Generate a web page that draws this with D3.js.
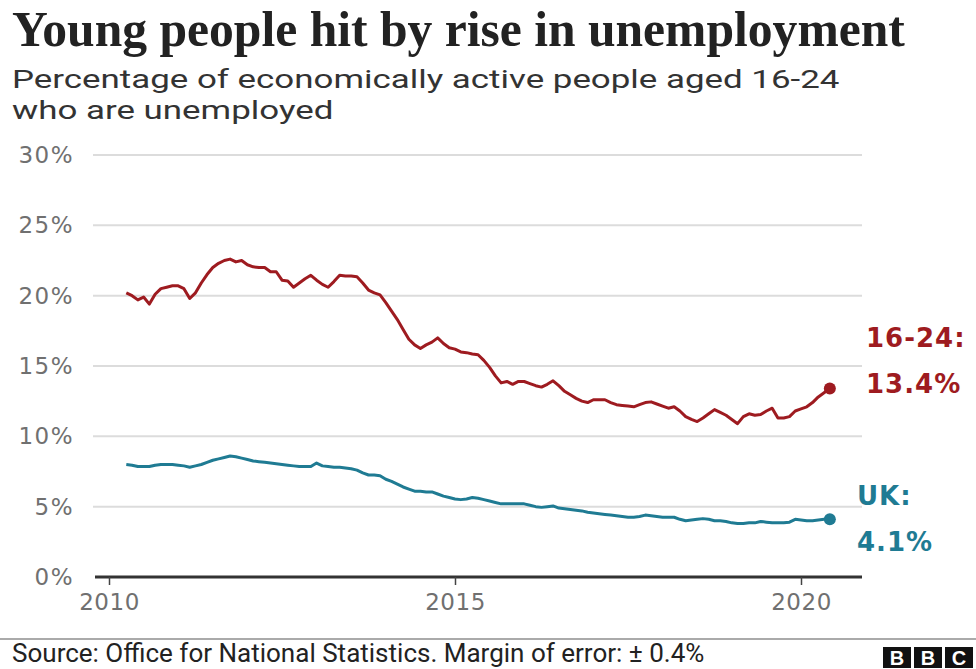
<!DOCTYPE html>
<html><head><meta charset="utf-8">
<script src="https://cdn.jsdelivr.net/npm/d3@7"></script>
<style>
html,body{margin:0;padding:0;background:#fff;}
svg{display:block;}
</style></head>
<body>
<svg id="c" width="976" height="669"></svg>
<script>
// ---- data ----
const title = "Young people hit by rise in unemployment";
const subtitleLines = ["Percentage of economically active people aged 16-24", "who are unemployed"];
const source = "Source: Office for National Statistics. Margin of error: \u00b1 0.4%";
const startYear = 2010, startMonth = 3; // April 2010 (0-based month)
const youth = [20.2,20.0,19.7,19.9,19.4,20.1,20.5,20.6,20.7,20.7,20.5,19.8,20.2,20.9,21.5,22.0,22.3,22.5,22.6,22.4,
22.5,22.2,22.05,22.0,22.0,21.7,21.7,21.1,21.05,20.6,20.9,21.2,21.45,21.1,20.8,20.6,21.0,21.45,21.4,21.4,
21.35,20.9,20.4,20.2,20.05,19.5,18.9,18.3,17.6,16.9,16.5,16.25,16.5,16.7,17.0,16.6,16.3,16.2,16.0,15.95,
15.85,15.8,15.4,14.9,14.3,13.8,13.9,13.7,13.9,13.9,13.75,13.6,13.5,13.7,13.95,13.6,13.2,12.95,12.7,12.5,
12.4,12.6,12.6,12.6,12.4,12.25,12.2,12.15,12.1,12.25,12.4,12.45,12.3,12.15,12.0,12.1,11.8,11.4,11.2,11.05,
11.3,11.6,11.9,11.7,11.5,11.2,10.9,11.4,11.6,11.5,11.55,11.8,12.0,11.3,11.3,11.4,11.8,11.95,12.1,12.4,
12.8,13.1,13.4];
const uk = [8.0,7.95,7.85,7.85,7.85,7.95,8.0,8.0,8.0,7.95,7.9,7.8,7.9,8.0,8.15,8.3,8.4,8.5,8.6,8.55,
8.45,8.35,8.25,8.2,8.15,8.1,8.05,8.0,7.95,7.9,7.85,7.85,7.85,8.1,7.9,7.85,7.8,7.8,7.75,7.7,
7.6,7.4,7.25,7.25,7.2,6.95,6.8,6.6,6.4,6.25,6.1,6.1,6.05,6.05,5.9,5.75,5.65,5.55,5.5,5.55,
5.65,5.6,5.5,5.4,5.3,5.2,5.2,5.2,5.2,5.2,5.1,5.0,4.95,5.0,5.05,4.9,4.85,4.8,4.75,4.7,
4.6,4.55,4.5,4.45,4.4,4.35,4.3,4.25,4.25,4.3,4.4,4.35,4.3,4.25,4.25,4.25,4.1,4.0,4.05,4.1,
4.15,4.1,4.0,4.0,3.95,3.85,3.8,3.8,3.85,3.85,3.95,3.9,3.85,3.85,3.85,3.9,4.1,4.05,4.0,4.0,
4.05,4.1,4.1];
const yTicks = [0,5,10,15,20,25,30];
const xTicks = [2010,2015,2020];
const seriesLabels = [["16-24:","13.4%"],["UK:","4.1%"]];

// ---- drawing ----
const svg = d3.select("#c");
const RED = "#9e1b20", TEAL = "#1f7b93";
const x = d3.scaleLinear().domain([2010,2020]).range([109,801]);
const y = d3.scaleLinear().domain([0,30]).range([577,155]);
const t = i => startYear + (startMonth + i)/12;
const SANS = "'DejaVu Sans',Verdana,sans-serif";

function fit(sel, target){
  const w = sel.node().getComputedTextLength();
  const fs = parseFloat(sel.attr("font-size"));
  sel.attr("font-size", fs*target/w);
}

// title
const tt = svg.append("text").attr("x",12).attr("y",46)
  .attr("font-family","'Liberation Serif','DejaVu Serif',serif").attr("font-weight","bold")
  .attr("font-size",40).attr("fill","#222").text(title);
fit(tt, 893);
// subtitle (stretched horizontally to the reference width)
const sg = svg.append("g");
const subs = subtitleLines.map((s,i)=> sg.append("text").attr("x",0).attr("y",88+i*31)
    .attr("font-family","Roboto,'Open Sans',sans-serif").attr("font-size",26.5).attr("fill","#333").text(s));
const sx = 828 / subs[0].node().getComputedTextLength();
sg.attr("transform",`translate(12,0) scale(${sx},1)`);

// grid
svg.append("g").selectAll("line").data(yTicks.filter(v=>v>0)).join("line")
  .attr("x1",93).attr("x2",862).attr("y1",d=>y(d)).attr("y2",d=>y(d))
  .attr("stroke","#dcdcdc").attr("stroke-width",2);

// y axis labels
const ya = svg.append("g").attr("transform","translate(93,0)")
  .call(d3.axisLeft(y).tickValues(yTicks).tickFormat(d=>d+"%").tickSize(0).tickPadding(19));
ya.select(".domain").remove();
ya.selectAll("text").attr("font-family",SANS).attr("font-size",23).attr("letter-spacing",1.5).attr("fill","#707070");

// x axis
const xa = svg.append("g").attr("transform","translate(0,577)")
  .call(d3.axisBottom(x).tickValues(xTicks).tickFormat(d3.format("d")).tickSize(8).tickSizeOuter(0).tickPadding(9));
xa.select(".domain").attr("d","M95,0H862").attr("stroke","#333").attr("stroke-width",3);
xa.selectAll(".tick line").attr("stroke","#444").attr("stroke-width",1.5);
xa.selectAll("text").attr("font-family",SANS).attr("font-size",23).attr("letter-spacing",0.5).attr("fill","#707070");

// lines
const line = d3.line().x((d,i)=>x(t(i))).y(d=>y(d));
[[youth,RED],[uk,TEAL]].forEach(([arr,col])=>{
  svg.append("path").datum(arr).attr("d",line).attr("fill","none")
    .attr("stroke",col).attr("stroke-width",3).attr("stroke-linejoin","round");
  svg.append("circle").attr("cx",x(t(arr.length-1))).attr("cy",y(arr[arr.length-1]))
    .attr("r",6).attr("fill",col);
});

// labels
const lab = [[866,347,RED],[857,505,TEAL]];
seriesLabels.forEach((ls,k)=>{
  ls.forEach((s,j)=>{
    svg.append("text").attr("x",lab[k][0]).attr("y",lab[k][1]+j*46)
      .attr("font-family",SANS).attr("font-weight","bold")
      .attr("font-size",26).attr("letter-spacing",1).attr("fill",lab[k][2]).text(s);
  });
});

// footer
svg.append("line").attr("x1",0).attr("x2",976).attr("y1",639).attr("y2",639)
  .attr("stroke","#aaa").attr("stroke-width",2);
const so = svg.append("text").attr("x",12).attr("y",662)
  .attr("font-family","Roboto,'Open Sans',sans-serif").attr("font-size",19).attr("fill","#222").text(source);
fit(so, 693);
// BBC logo
["B","B","C"].forEach((c,i)=>{
  const bx = 883 + i*31;
  svg.append("rect").attr("x",bx).attr("y",647).attr("width",28).attr("height",21).attr("fill","#111");
  svg.append("text").attr("x",bx+14).attr("y",665).attr("text-anchor","middle")
    .attr("font-family","'Liberation Sans',Arial,sans-serif").attr("font-weight","bold")
    .attr("font-size",20).attr("fill","#fff").text(c);
});
</script>
</body></html>
